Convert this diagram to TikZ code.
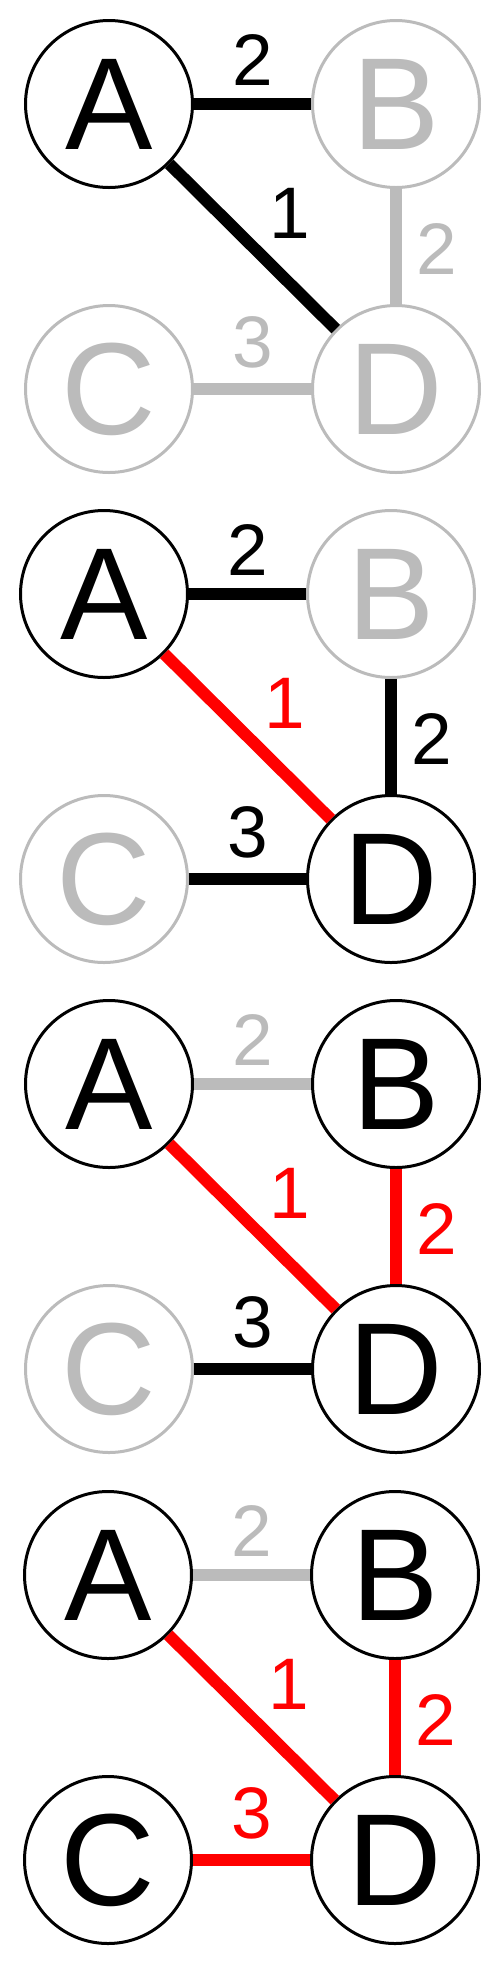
\documentclass[tikz,border=0pt]{standalone}
\usepackage{fontspec}
\setmainfont{Liberation Sans}
\definecolor{lgray}{RGB}{187,187,187}
\definecolor{mred}{RGB}{255,0,0}
\tikzset{
  vtx/.style={circle, draw=#1, text=#1, fill=white, line width=3pt, minimum size=167pt, inner sep=0pt, font=\fontsize{131}{131}\selectfont},
  vtx/.default=black,
  edg/.style={draw=#1, line width=12pt},
  edg/.default=black,
  wlab/.style={text=#1, inner sep=0pt, font=\fontsize{73}{73}\selectfont},
  wlab/.default=black
}
\begin{document}
\begin{tikzpicture}[x=1pt,y=-1pt]
\useasboundingbox (0,0) rectangle (500,1966);
% Panel 1
\begin{scope}[shift={(0,0)}]
  \node[vtx] (A1) at (109,104) {A};
  \node[vtx=lgray] (B1) at (396,104) {B};
  \node[vtx=lgray] (C1) at (109,389) {C};
  \node[vtx=lgray] (D1) at (396,389) {D};
  \draw[edg] (A1) -- (B1);
  \draw[edg] (A1) -- (D1);
  \draw[edg=lgray] (B1) -- (D1);
  \draw[edg=lgray] (C1) -- (D1);
  \node[wlab] (w1ab) at (253,60) {2};
  \node[wlab] (w1ad) at (290,213) {1};
  \node[wlab=lgray] (w1bd) at (437,249) {2};
  \node[wlab=lgray] (w1cd) at (253,342) {3};
\end{scope}
% Panel 2
\begin{scope}[shift={(-5,490)}]
  \node[vtx] (A2) at (109,104) {A};
  \node[vtx=lgray] (B2) at (396,104) {B};
  \node[vtx=lgray] (C2) at (109,389) {C};
  \node[vtx] (D2) at (396,389) {D};
  \draw[edg] (A2) -- (B2);
  \draw[edg=mred] (A2) -- (D2);
  \draw[edg] (B2) -- (D2);
  \draw[edg] (C2) -- (D2);
  \node[wlab] (w2ab) at (253,60) {2};
  \node[wlab=mred] (w2ad) at (290,213) {1};
  \node[wlab] (w2bd) at (437,249) {2};
  \node[wlab] (w2cd) at (253,342) {3};
\end{scope}
% Panel 3
\begin{scope}[shift={(0,980)}]
  \node[vtx] (A3) at (109,104) {A};
  \node[vtx] (B3) at (396,104) {B};
  \node[vtx=lgray] (C3) at (109,389) {C};
  \node[vtx] (D3) at (396,389) {D};
  \draw[edg=lgray] (A3) -- (B3);
  \draw[edg=mred] (A3) -- (D3);
  \draw[edg=mred] (B3) -- (D3);
  \draw[edg] (C3) -- (D3);
  \node[wlab=lgray] (w3ab) at (253,60) {2};
  \node[wlab=mred] (w3ad) at (290,213) {1};
  \node[wlab=mred] (w3bd) at (437,249) {2};
  \node[wlab] (w3cd) at (253,342) {3};
\end{scope}
% Panel 4
\begin{scope}[shift={(-1,1471)}]
  \node[vtx] (A4) at (109,104) {A};
  \node[vtx] (B4) at (396,104) {B};
  \node[vtx] (C4) at (109,389) {C};
  \node[vtx] (D4) at (396,389) {D};
  \draw[edg=lgray] (A4) -- (B4);
  \draw[edg=mred] (A4) -- (D4);
  \draw[edg=mred] (B4) -- (D4);
  \draw[edg=mred] (C4) -- (D4);
  \node[wlab=lgray] (w4ab) at (253,60) {2};
  \node[wlab=mred] (w4ad) at (290,213) {1};
  \node[wlab=mred] (w4bd) at (437,249) {2};
  \node[wlab=mred] (w4cd) at (253,342) {3};
\end{scope}
\end{tikzpicture}
\end{document}
